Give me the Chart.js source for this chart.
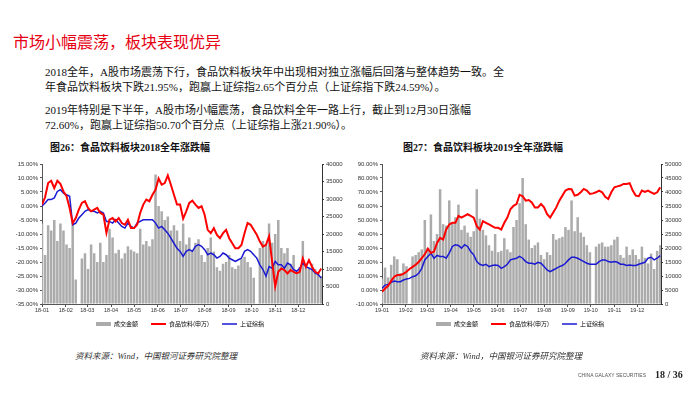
<!DOCTYPE html>
<html>
<head>
<meta charset="utf-8">
<script src="https://cdn.jsdelivr.net/npm/chart.js@4.4.0/dist/chart.umd.min.js"></script>
<style>
body { margin: 0; width: 700px; height: 393px; background: #fff; position: relative; overflow: hidden;
       font-family: "Liberation Serif", "Noto Sans CJK SC", serif; }
.t { position: absolute; white-space: nowrap; }
#title { left: 13px; top: 30px; font-size: 16px; line-height: 22px; color: #e60012; font-family: "Noto Sans CJK SC"; }
.p { left: 45px; font-size: 11px; line-height: 14px; color: #111; }
.ct { top: 142px; font-size: 10px; line-height: 12px; font-weight: bold; color: #111; }
.src { top: 351px; font-size: 8.5px; line-height: 10px; font-style: italic; color: #333; }
canvas { position: absolute; }
</style>
</head>
<body>
<div class="t" id="title">市场小幅震荡，板块表现优异</div>
<div class="t p" style="top:65px">2018全年，A股市场震荡下行，食品饮料板块年中出现相对独立涨幅后回落与整体趋势一致。全</div>
<div class="t p" style="top:80px">年食品饮料板块下跌21.95%，跑赢上证综指2.65个百分点（上证综指下跌24.59%）。</div>
<div class="t p" style="top:103px">2019年特别是下半年，A股市场小幅震荡，食品饮料全年一路上行，截止到12月30日涨幅</div>
<div class="t p" style="top:118px">72.60%，跑赢上证综指50.70个百分点（上证综指上涨21.90%）。</div>

<div class="t ct" style="left:50px">图26：食品饮料板块2018全年涨跌幅</div>
<div class="t ct" style="left:403px">图27：食品饮料板块2019全年涨跌幅</div>

<canvas id="c2018" width="352" height="185" style="left:0;top:152px"></canvas>
<canvas id="c2019" width="350" height="185" style="left:350px;top:152px"></canvas>

<div class="t src" style="left:75px">资料来源：Wind，中国银河证券研究院整理</div>
<div class="t src" style="left:420px">资料来源：Wind，中国银河证券研究院整理</div>
<div class="t" style="left:578px;top:372px;font-size:5px;line-height:6px;color:#555;font-family:'Liberation Sans'">CHINA GALAXY SECURITIES</div>
<div class="t" style="left:655px;top:369px;font-size:10px;line-height:12px;font-weight:bold;color:#222">18 / 36</div>

<script>
// one sample every 4 calendar days, day 0 = Jan 1
const monthStartDay = [0, 31, 59, 90, 120, 151, 181, 212, 243, 273, 304, 334];
const months2018 = ['18-01','18-02','18-03','18-04','18-05','18-06','18-07','18-08','18-09','18-10','18-11','18-12'];
const months2019 = ['19-01','19-02','19-03','19-04','19-05','19-06','19-07','19-08','19-09','19-10','19-11','19-12'];

// 成交金额 (right axis)
const bars2018 = [23000, 14000, 22500, 21000, 24000, 18000, 23000, 21000, 17000, 16000,
  24000, 7000, null, 13000, 14500, 10000, 17000, 14500, 12000, 17500,
  12000, 14000, 21500, 19000, 14500, 15500, 13000, 14500, 16500, 15500,
  15000, 14500, 21500, 17000, 18000, 16500, 18500, 37000, 28000, 26500,
  24000, 25000, 21000, 22500, 21000, 18000, 23000, 17000, 19000, 15500,
  17500, 18500, 14000, 12000, 16000, 19000, 15000, 10500, 9500, 11500,
  12000, 14000, 10500, 10000, 11000, 13000, 13500, 12000, 10500, 7500,
  null, 16000, 18000, 17000, 23000, 17500, 20000, 24000, 16000, 14500,
  16000, 11500, 14000, 8500, 10500, 18000, 11500, 10500, 11500, 10000,
  9000, 8000];
// 食品饮料(申万) %
const food2018 = [0.5, 3.1, 8.2, 9.0, 6.4, 9.0, 7.9, 5.2, 3.5, -0.7,
  -6.1, -4.3, -1.3, 1.1, 1.7, -0.7, -1.9, -1.3, -0.7, -2.5,
  -3.1, -9.6, -4.9, -4.3, -5.5, -4.3, -6.1, -6.7, -4.9, -7.9,
  -7.9, -6.7, -2.5, 0.5, 2.3, 1.7, 4.0, 5.8, 9.8, 7.6,
  8.2, 10.9, 7.6, 4.0, 0.5, 0.5, -4.5, -1.9, 1.1, 1.9,
  0.5, -0.7, -0.1, -3.1, -8.5, -9.7, -7.9, -10.3, -11.5, -9.7,
  -8.5, -11.5, -13.3, -15.1, -15.1, -13.9, -9.7, -6.1, -6.7, -8.5,
  -10.3, -12.7, -14.5, -13.9, -10.8, -19.9, -28.7, -23.5, -22.3, -22.9,
  -24.1, -22.9, -23.5, -24.1, -23.5, -18.7, -21.7, -19.3, -21.7, -23.5,
  -24.1, -22.3];
// 上证综指 %
const sh2018 = [0.0, 1.1, 2.3, 2.3, 2.9, 5.2, 5.8, 4.6, 4.0, 3.5,
  -6.7, -6.1, -4.3, -3.1, -1.9, -1.3, -1.9, -1.9, -2.5, -1.9,
  -2.5, -5.5, -5.5, -6.1, -4.9, -6.1, -7.3, -7.9, -6.1, -7.3,
  -7.9, -6.1, -5.5, -4.9, -4.9, -4.9, -4.9, -6.1, -7.9, -7.3,
  -8.5, -9.7, -11.5, -13.3, -15.1, -16.2, -18.0, -16.2, -15.6, -16.2,
  -14.4, -13.8, -14.4, -15.6, -17.4, -16.8, -17.4, -18.6, -18.0, -16.8,
  -17.4, -18.6, -19.2, -19.8, -19.2, -18.6, -16.2, -15.6, -16.2, -17.4,
  -18.6, -21.0, -22.7, -25.1, -21.6, -22.2, -19.8, -21.0, -21.0, -22.2,
  -20.4, -21.0, -22.7, -23.3, -22.2, -20.4, -21.6, -22.2, -22.7, -23.9,
  -24.5, -25.7];

const bars2019 = [9000, 13000, 9500, 14000, 17000, 16000, 11000, 14500, 13500, null,
  17000, 17500, 18500, 19500, 30000, 20000, 32000, 22500, 25000, 41000,
  28500, 28000, 37000, 29000, 31000, 35500, 26500, 28000, 25500, 24000,
  26000, 41000, 30500, 26500, 24500, 21000, 19000, 25000, 18500, 19000,
  23500, 19500, 18500, 27500, 30000, 36000, 45000, 28500, 23000, 20000,
  21000, 22000, 17500, 16000, 18500, 17500, 25000, 23000, 23500, 24000,
  27500, 26500, 37000, 26000, 31000, 25500, 24000, 21000, 18500, null,
  20500, 21500, 22000, 20500, 20500, 21000, 23000, 24000, 17500, 16500,
  20500, 17500, 19500, 17500, 16000, 20500, 16500, 14500, 18000, 12500,
  19000, 21000];
const food2019 = [-1.3, 1.1, 3.0, 6.5, 9.5, 10.7, 10.7, 11.5, 13.0, 15.0,
  16.5, 18.0, 20.0, 22.7, 25.5, 29.5, 26.4, 27.5, 33.6, 37.2,
  36.0, 43.2, 46.8, 48.0, 48.0, 52.9, 51.7, 52.9, 54.1, 52.9,
  51.7, 45.6, 43.2, 49.2, 48.0, 46.8, 45.6, 44.4, 44.4, 43.2,
  48.0, 51.7, 57.7, 60.1, 61.3, 68.0, 67.0, 63.8, 64.3, 62.6,
  59.0, 59.0, 61.4, 59.0, 54.2, 51.8, 55.4, 59.0, 63.8, 67.4,
  71.0, 72.2, 72.0, 67.4, 68.0, 69.8, 72.2, 71.0, 68.6, 69.0,
  69.8, 71.0, 69.8, 66.6, 65.0, 69.8, 73.4, 74.0, 74.6, 75.8,
  75.8, 76.3, 71.0, 67.4, 67.0, 71.0, 70.0, 71.0, 69.8, 68.6,
  69.8, 73.4];
const sh2019 = [1.1, 3.5, 4.0, 5.4, 6.4, 5.9, 5.9, 7.1, 7.8, 8.3,
  9.5, 10.2, 11.9, 15.5, 21.5, 24.0, 26.3, 22.7, 24.7, 24.0,
  24.0, 22.7, 26.3, 31.1, 32.3, 31.8, 29.9, 32.3, 31.1, 27.5,
  25.1, 20.3, 18.4, 17.5, 18.4, 16.7, 17.5, 17.9, 17.5, 15.5,
  16.7, 18.4, 21.5, 22.1, 22.7, 24.0, 22.7, 20.3, 19.1, 19.1,
  18.4, 19.8, 19.1, 16.7, 14.3, 13.1, 14.3, 15.5, 16.7, 17.5,
  19.1, 21.5, 23.4, 23.4, 22.7, 21.5, 20.3, 19.1, 18.4, 18.4,
  18.4, 20.3, 21.5, 21.5, 20.3, 19.8, 20.3, 19.8, 18.4, 18.4,
  17.5, 17.9, 17.5, 17.5, 18.4, 19.1, 19.8, 22.7, 23.4, 21.5,
  22.7, 24.5];

const sampleDays = bars2018.map((v, i) => i * 4);

const axisColor = '#555';
const tickFont = { size: 6, family: 'Liberation Sans' };

function buildChart(id, o) {
  return new Chart(document.getElementById(id), {
    type: 'bar',
    data: {
      labels: sampleDays,
      datasets: [
        { type: 'bar', label: '成交金额', data: o.bars, yAxisID: 'y1', backgroundColor: '#ababab',
          barPercentage: 0.82, categoryPercentage: 1, order: 3 },
        { type: 'line', label: '食品饮料(申万)', data: o.food, yAxisID: 'y', borderColor: '#ff0000',
          borderWidth: 2, pointRadius: 0, tension: 0, order: 1 },
        { type: 'line', label: '上证综指', data: o.sh, yAxisID: 'y', borderColor: '#1a1ad2',
          borderWidth: 1.5, pointRadius: 0, tension: 0, order: 2 }
      ]
    },
    options: {
      responsive: false,
      animation: false,
      devicePixelRatio: 1,
      layout: { padding: o.pad },
      plugins: {
        tooltip: { enabled: false },
        legend: {
          position: 'bottom',
          labels: {
            usePointStyle: true, pointStyleWidth: 15, boxHeight: 4, padding: 13,
            font: { size: 6, family: 'Noto Sans CJK SC' }, color: '#333',
            generateLabels: function (chart) {
              return chart.data.datasets.map(function (ds, i) {
                const isBar = ds.type === 'bar';
                return {
                  text: ds.label, datasetIndex: i, hidden: false,
                  fillStyle: isBar ? ds.backgroundColor : ds.borderColor,
                  strokeStyle: isBar ? ds.backgroundColor : ds.borderColor,
                  lineWidth: isBar ? 0 : ds.borderWidth,
                  pointStyle: isBar ? 'rect' : 'line'
                };
              });
            }
          }
        }
      },
      scales: {
        x: {
          type: 'linear', min: 0, max: 365, offset: false,
          grid: { drawOnChartArea: false, offset: false, tickLength: 3, color: axisColor },
          border: { color: axisColor },
          // mirror keeps the labels from being clipped to the shrunken axis box,
          // the negative padding pushes them back below the axis line
          ticks: {
            autoSkip: false, maxRotation: 0, mirror: true, padding: -10, color: '#333',
            font: { size: 5.5, family: 'Liberation Sans' },
            callback: function (v, i) { return o.months[i]; }
          },
          afterBuildTicks: function (s) { s.ticks = monthStartDay.map(d => ({ value: d })); },
          afterFit: function (s) { s.height = 4; }
        },
        y: {
          position: 'left', min: o.yMin, max: o.yMax,
          grid: { drawOnChartArea: false, tickLength: 2, color: axisColor },
          border: { color: axisColor },
          ticks: { stepSize: o.yStep, padding: 2, color: '#333', font: tickFont,
                   callback: v => v.toFixed(2) + '%' },
          afterFit: function (s) { s.width = o.leftW; }
        },
        y1: {
          position: 'right', min: 0, max: o.rMax,
          grid: { drawOnChartArea: false, tickLength: 2, color: '#333' },
          border: { color: '#333' },
          ticks: { stepSize: 5000, padding: 2, color: '#333', font: tickFont,
                   callback: v => String(v) },
          afterFit: function (s) { s.width = o.rightW; }
        }
      }
    }
  });
}

buildChart('c2018', {
  bars: bars2018, food: food2018, sh: sh2018, months: months2018,
  yMin: -35, yMax: 15, yStep: 5, rMax: 40000,
  pad: { left: 8, right: 0, top: 12, bottom: 0 }, leftW: 34, rightW: 30
});
buildChart('c2019', {
  bars: bars2019, food: food2019, sh: sh2019, months: months2019,
  yMin: -10, yMax: 90, yStep: 10, rMax: 50000,
  pad: { left: 0, right: 10, top: 12, bottom: 0 }, leftW: 32, rightW: 29
});
</script>
</body>
</html>
